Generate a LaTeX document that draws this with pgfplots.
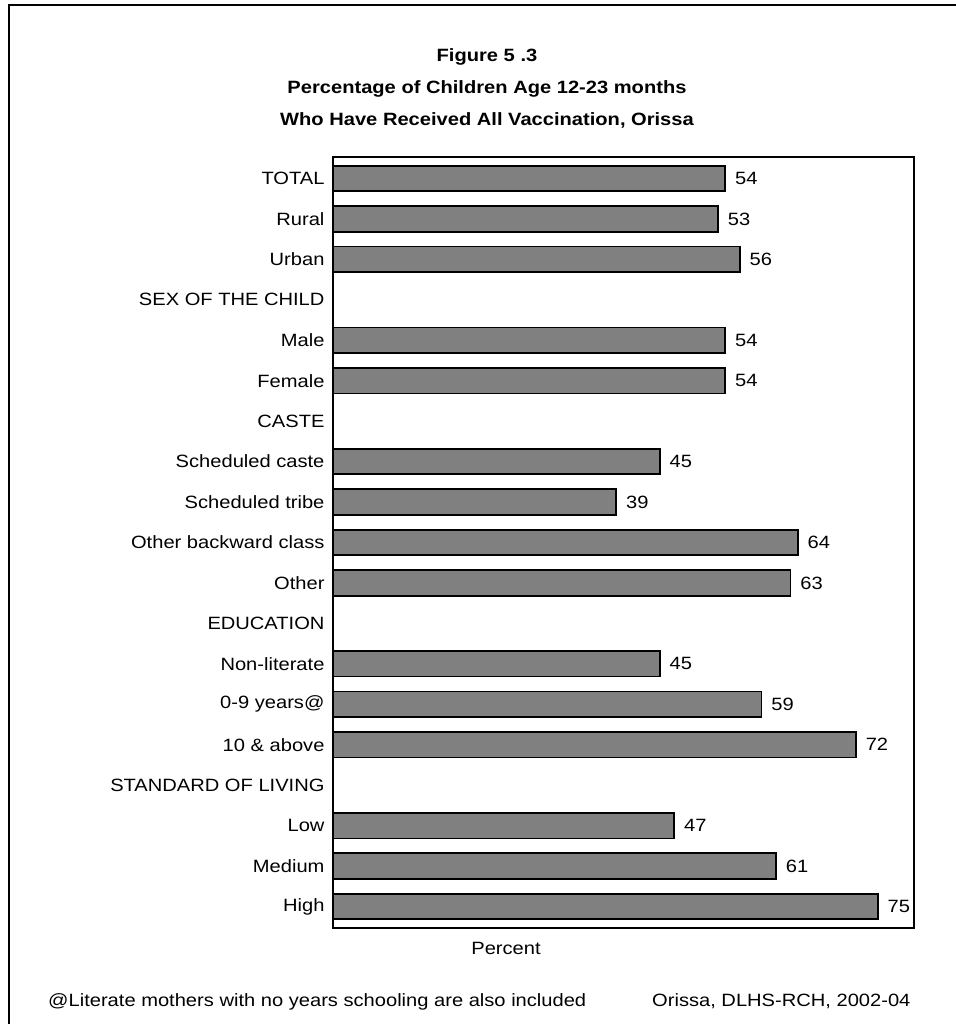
\documentclass[border=0pt]{standalone}
\usepackage{fontspec}
\setmainfont{Liberation Sans}[FakeStretch=1.13]
\usepackage{pgfplots}
\pgfplotsset{compat=1.18}

\newcommand\lbl{\fontsize{17.8}{21}\selectfont}

\begin{document}
\begin{tikzpicture}[x=1pt,y=1pt]
\useasboundingbox (0,0) rectangle (955,1024);
% page frame
\draw[line width=2pt] (9,-20) rectangle (990,1019);

% titles
\node[font=\lbl\bfseries, anchor=base] at (487,962.7) {Figure 5 .3};
\node[font=\lbl\bfseries, anchor=base] at (487,930.7) {Percentage of Children Age 12-23 months};
\node[font=\lbl\bfseries, anchor=base] at (487,898.7) {Who Have Received All Vaccination, Orissa};

\begin{axis}[
  at={(333pt,96pt)}, anchor=south west,
  scale only axis, width=581pt, height=771pt,
  xbar, xmin=0, xmax=80,
  ymin=-0.53, ymax=18.53, y dir=reverse,
  bar width=0.63,
  axis line style={line width=1.8pt},
  xtick=\empty,
  ytick={0,...,18},
  yticklabels={TOTAL, Rural, Urban, SEX OF THE CHILD, Male, Female, CASTE,
    Scheduled caste, Scheduled tribe, Other backward class, Other, EDUCATION,
    Non-literate, 0-9 years@, 10 \& above, STANDARD OF LIVING, Low, Medium, High},
  yticklabel style={font=\lbl, xshift=-5pt},
  major tick length=0pt,
  /pgf/number format/assume math mode=true,
  point meta=x,
  nodes near coords,
  nodes near coords style={font=\lbl, anchor=west, inner sep=0pt, xshift=9pt},
  clip=false,
]
\addplot[fill=gray, draw=black, line width=1.8pt] coordinates {
  (54,0) (53,1) (56,2)
  (54,4) (54,5)
  (45,7) (39,8) (64,9) (63,10)
  (45,12) (59,13) (72,14)
  (47,16) (61,17) (75,18)
};
\end{axis}

% axis caption and notes
\node[font=\lbl, anchor=base] at (506,69.7) {Percent};
\node[font=\lbl, anchor=base west, inner sep=0pt] at (48,17) {@Literate mothers with no years schooling are also included};
\node[font=\lbl, anchor=base west, inner sep=0pt] at (652,17) {Orissa, DLHS-RCH, 2002-04};
\end{tikzpicture}
\end{document}
